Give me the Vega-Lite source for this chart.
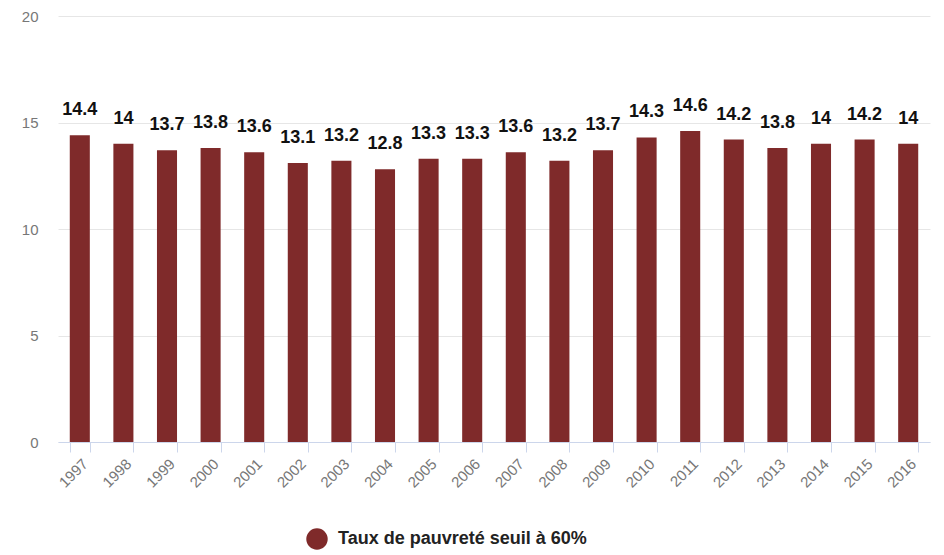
{
  "$schema": "https://vega.github.io/schema/vega-lite/v6.json",
  "width": 872,
  "height": 426,
  "autosize": {"type": "none"},
  "padding": {"left": 58, "top": 16, "right": 14, "bottom": 113},
  "background": "white",
  "data": {
    "values": [
      {"annee": "1997", "taux": 14.4, "serie": "Taux de pauvreté seuil à 60%"},
      {"annee": "1998", "taux": 14, "serie": "Taux de pauvreté seuil à 60%"},
      {"annee": "1999", "taux": 13.7, "serie": "Taux de pauvreté seuil à 60%"},
      {"annee": "2000", "taux": 13.8, "serie": "Taux de pauvreté seuil à 60%"},
      {"annee": "2001", "taux": 13.6, "serie": "Taux de pauvreté seuil à 60%"},
      {"annee": "2002", "taux": 13.1, "serie": "Taux de pauvreté seuil à 60%"},
      {"annee": "2003", "taux": 13.2, "serie": "Taux de pauvreté seuil à 60%"},
      {"annee": "2004", "taux": 12.8, "serie": "Taux de pauvreté seuil à 60%"},
      {"annee": "2005", "taux": 13.3, "serie": "Taux de pauvreté seuil à 60%"},
      {"annee": "2006", "taux": 13.3, "serie": "Taux de pauvreté seuil à 60%"},
      {"annee": "2007", "taux": 13.6, "serie": "Taux de pauvreté seuil à 60%"},
      {"annee": "2008", "taux": 13.2, "serie": "Taux de pauvreté seuil à 60%"},
      {"annee": "2009", "taux": 13.7, "serie": "Taux de pauvreté seuil à 60%"},
      {"annee": "2010", "taux": 14.3, "serie": "Taux de pauvreté seuil à 60%"},
      {"annee": "2011", "taux": 14.6, "serie": "Taux de pauvreté seuil à 60%"},
      {"annee": "2012", "taux": 14.2, "serie": "Taux de pauvreté seuil à 60%"},
      {"annee": "2013", "taux": 13.8, "serie": "Taux de pauvreté seuil à 60%"},
      {"annee": "2014", "taux": 14, "serie": "Taux de pauvreté seuil à 60%"},
      {"annee": "2015", "taux": 14.2, "serie": "Taux de pauvreté seuil à 60%"},
      {"annee": "2016", "taux": 14, "serie": "Taux de pauvreté seuil à 60%"}
    ]
  },
  "encoding": {
    "x": {
      "field": "annee",
      "type": "ordinal",
      "title": null,
      "scale": {"paddingInner": 0.54, "paddingOuter": 0.27},
      "axis": {
        "labelAngle": -45,
        "labelColor": "#777777",
        "labelFontSize": 15,
        "labelFont": "Liberation Sans",
        "domainColor": "#ccd6eb",
        "tickColor": "#ccd6eb",
        "tickBand": "extent",
        "tickSize": 10,
        "labelPadding": 4,
        "grid": false
      }
    },
    "y": {
      "field": "taux",
      "type": "quantitative",
      "title": null,
      "scale": {"domain": [0, 20]},
      "axis": {
        "values": [0, 5, 10, 15, 20],
        "domain": false,
        "ticks": false,
        "labelColor": "#777777",
        "labelFontSize": 15,
        "labelFont": "Liberation Sans",
        "labelPadding": 20,
        "gridColor": "#e6e6e6"
      }
    }
  },
  "layer": [
    {
      "mark": {"type": "bar", "color": "#7f2a2a"},
      "encoding": {
        "color": {
          "field": "serie",
          "type": "nominal",
          "scale": {"range": ["#7f2a2a"]},
          "legend": {
            "title": null,
            "orient": "none",
            "legendX": 248,
            "legendY": 512,
            "symbolType": "circle",
            "symbolSize": 460,
            "symbolStrokeWidth": 0,
            "labelFontSize": 18,
            "labelFontWeight": "bold",
            "labelFont": "Liberation Sans",
            "labelColor": "#222222",
            "labelOffset": 10,
            "labelLimit": 500
          }
        }
      }
    },
    {
      "mark": {
        "type": "text",
        "dy": -20,
        "baseline": "alphabetic",
        "fontSize": 18,
        "fontWeight": "bold",
        "font": "Liberation Sans",
        "color": "#111111"
      },
      "encoding": {"text": {"field": "taux", "type": "quantitative"}}
    }
  ],
  "config": {
    "view": {"stroke": null}
  }
}
